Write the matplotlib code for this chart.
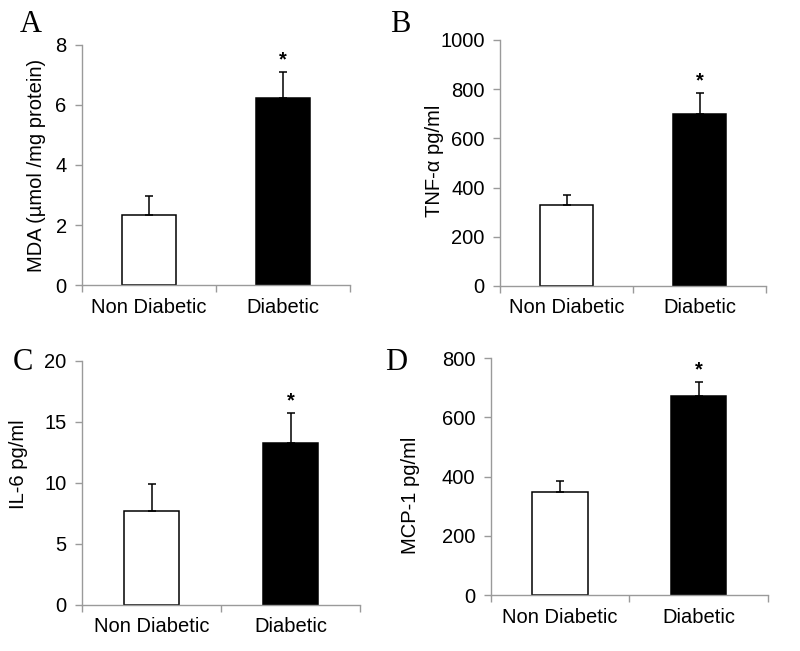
import matplotlib
matplotlib.use("Agg")
import matplotlib.pyplot as plt

plt.rcParams['font.family'] = ['Liberation Sans', 'DejaVu Sans']

categories = ["Non Diabetic", "Diabetic"]

mda_means = [2.33, 6.24]
mda_err = [0.64, 0.85]

tnf_means = [330, 699]
tnf_err = [39, 86]

il6_means = [7.72, 13.29]
il6_err = [2.2, 2.45]

mcp_means = [348, 672]
mcp_err = [38, 49]

panels = [
    dict(letter="A", means=mda_means, err=mda_err, ylabel="MDA (µmol /mg protein)",
         ylim=(0, 8), yticks=[0, 2, 4, 6, 8],
         rect=[0.1025, 0.5622, 0.335, 0.3687], lab=(-0.168, 0.5), letpos=(0.025, 0.985)),
    dict(letter="B", means=tnf_means, err=tnf_err, ylabel="TNF-α pg/ml",
         ylim=(0, 1000), yticks=[0, 200, 400, 600, 800, 1000],
         rect=[0.625, 0.5607, 0.3325, 0.3779], lab=(-0.248, 0.51), letpos=(0.4875, 0.985)),
    dict(letter="C", means=il6_means, err=il6_err, ylabel="IL-6 pg/ml",
         ylim=(0, 20), yticks=[0, 5, 10, 15, 20],
         rect=[0.1025, 0.0707, 0.3475, 0.3753], lab=(-0.227, 0.577), letpos=(0.016, 0.466)),
    dict(letter="D", means=mcp_means, err=mcp_err, ylabel="MCP-1 pg/ml",
         ylim=(0, 800), yticks=[0, 200, 400, 600, 800],
         rect=[0.6134, 0.086, 0.3466, 0.3636], lab=(-0.29, 0.4225), letpos=(0.481, 0.466)),
]

fig = plt.figure(figsize=(8, 6.51), dpi=100)
axis_color = "#9a9a9a"
fs = 14.5

for p in panels:
    ax = fig.add_axes(p["rect"])
    x = [0, 1]
    ax.bar(x, p["means"], width=0.4, color=["white", "black"], edgecolor="black",
           linewidth=1.1, zorder=2)
    ax.errorbar(x, p["means"], yerr=[[0, 0], p["err"]], fmt="none", ecolor="black",
                elinewidth=1.1, capsize=3, capthick=1.1, zorder=3)
    for xi, m, e in zip(x, p["means"], p["err"]):
        if xi == 1:
            ax.annotate("*", (xi, m + e), xytext=(0, 2), textcoords="offset points",
                        ha="center", va="bottom", fontsize=fs, fontweight="bold")
    ax.set_xlim(-0.5, 1.5)
    ax.set_ylim(*p["ylim"])
    ax.set_yticks(p["yticks"])
    ax.set_yticklabels([str(t) for t in p["yticks"]], fontsize=fs)
    ax.set_xticks([-0.5, 0.5, 1.5])
    ax.set_xticklabels([])
    ax.set_xticks([0, 1], minor=True)
    ax.set_xticklabels(categories, minor=True, fontsize=fs)
    ax.tick_params(axis="x", which="minor", length=0, pad=9)
    ax.tick_params(axis="x", which="major", length=5, color=axis_color, width=1)
    ax.tick_params(axis="y", length=5, color=axis_color, width=1, pad=6)
    for s in ["top", "right"]:
        ax.spines[s].set_visible(False)
    for s in ["left", "bottom"]:
        ax.spines[s].set_color(axis_color)
        ax.spines[s].set_linewidth(1)
    ax.set_ylabel(p["ylabel"], fontsize=fs, va="center")
    ax.yaxis.set_label_coords(*p["lab"])
    fig.text(p["letpos"][0], p["letpos"][1], p["letter"], family="Liberation Serif",
             fontsize=22, ha="left", va="top")

fig.savefig("out.png", dpi=100)
